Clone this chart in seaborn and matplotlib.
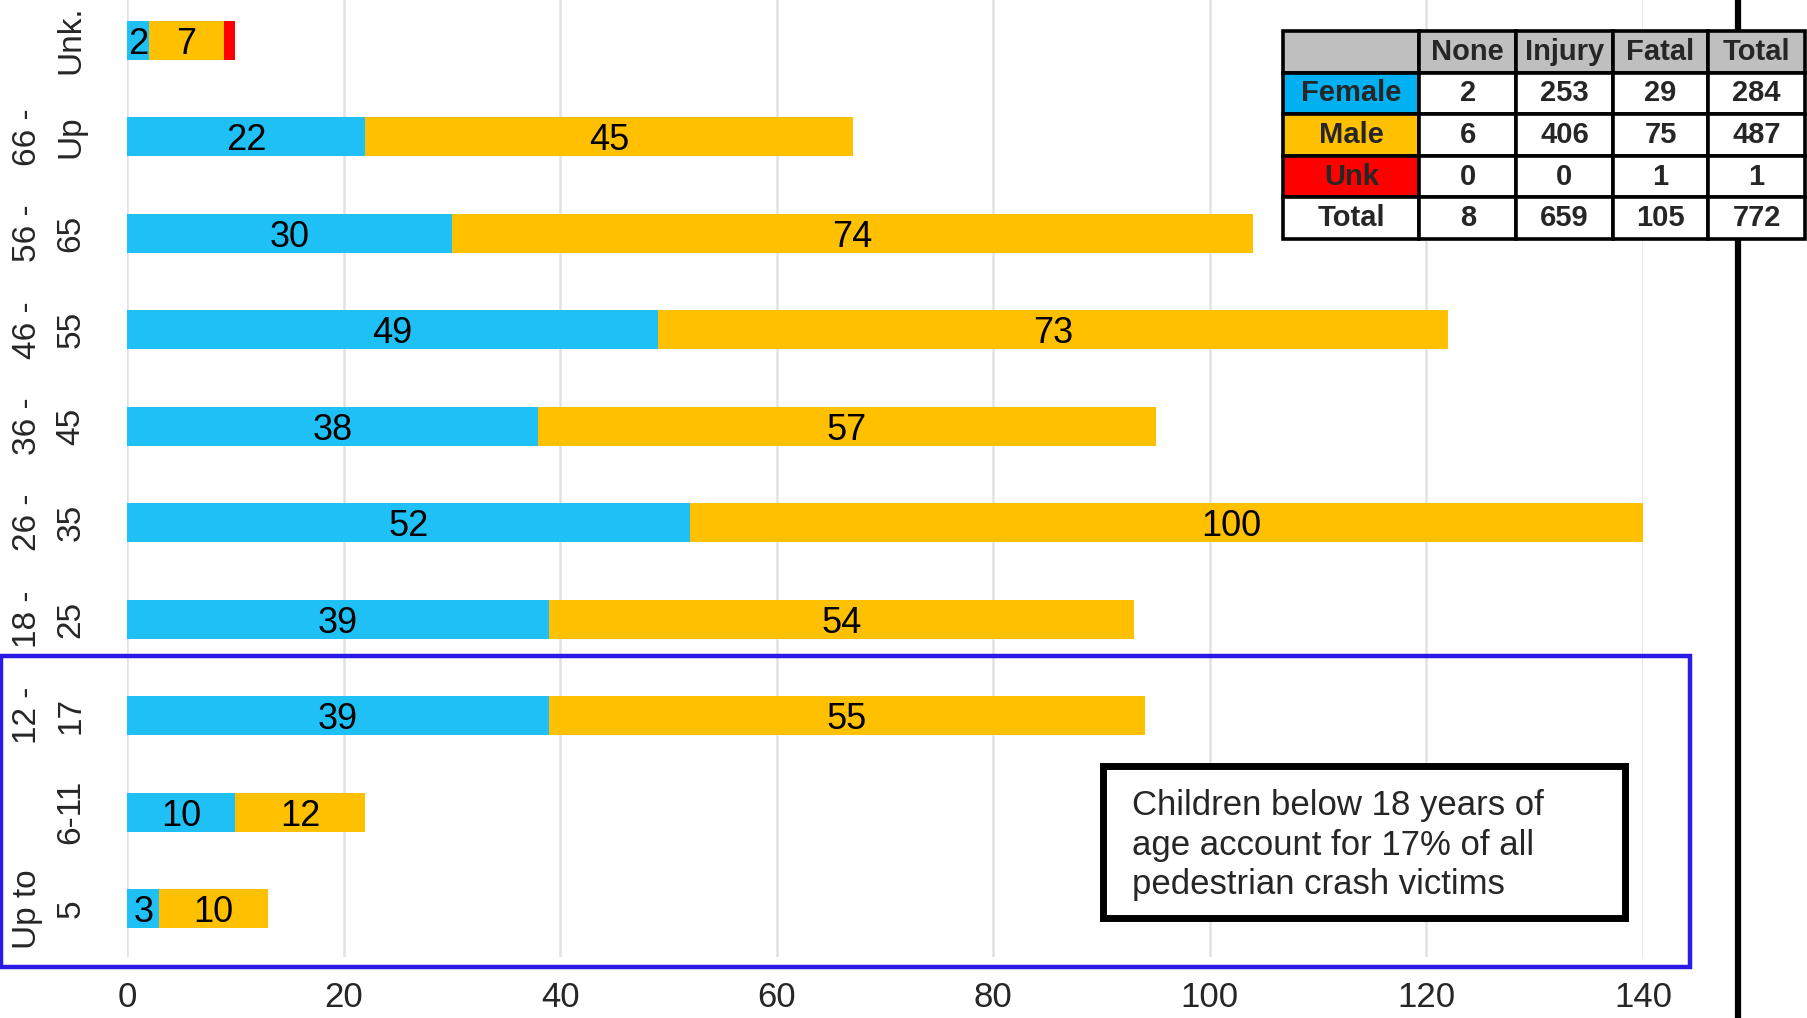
import matplotlib
matplotlib.use("Agg")
import matplotlib.pyplot as plt
import seaborn as sns
import pandas as pd
import numpy as np
from matplotlib.patches import Rectangle
from matplotlib.lines import Line2D

# ---------------- data ----------------
age_groups = ["Unk.", "66 -\nUp", "56 -\n65", "46 -\n55", "36 -\n45",
              "26 -\n35", "18 -\n25", "12 -\n17", "6-11", "Up to\n5"]
female = [2, 22, 30, 49, 38, 52, 39, 39, 10, 3]
male = [7, 45, 74, 73, 57, 100, 54, 55, 12, 10]
unknown = [1, 0, 0, 0, 0, 0, 0, 0, 0, 0]

x_ticks = [0, 20, 40, 60, 80, 100, 120, 140]

table_cols = ["", "None", "Injury", "Fatal", "Total"]
table_rows = ["Female", "Male", "Unk", "Total"]
table_none = [2, 6, 0, 8]
table_injury = [253, 406, 0, 659]
table_fatal = [29, 75, 1, 105]
table_total = [284, 487, 1, 772]

note_text = "Children below 18 years of\nage account for 17% of all\npedestrian crash victims"

# ---------------- style ----------------
sns.set_theme(style="white")
plt.rcParams["font.family"] = ["Liberation Sans", "DejaVu Sans"]

C_FEMALE = "#1FC0F5"
C_MALE = "#FFC000"
C_UNK = "#FF0000"
C_FEMALE_CELL = "#00B0F0"

W, H = 1807, 1018
fig = plt.figure(figsize=(W / 100, H / 100), dpi=100)
fig.patch.set_facecolor("white")

ax = fig.add_axes([127 / W, (H - 957) / H, (1643 - 127) / W, (957 + 8) / H])

df = pd.DataFrame({
    "age": age_groups,
    "female": female,
    "male": male,
    "unk": unknown,
})
df["fm"] = df["female"] + df["male"]
df["all"] = df["fm"] + df["unk"]

bar_w = 0.4
sns.barplot(data=df, y="age", x="all", order=age_groups, color=C_UNK,
            width=bar_w, saturation=1, orient="h", ax=ax, linewidth=0)
sns.barplot(data=df, y="age", x="fm", order=age_groups, color=C_MALE,
            width=bar_w, saturation=1, orient="h", ax=ax, linewidth=0)
sns.barplot(data=df, y="age", x="female", order=age_groups, color=C_FEMALE,
            width=bar_w, saturation=1, orient="h", ax=ax, linewidth=0)

for i, (f, m) in enumerate(zip(female, male)):
    ax.text(f / 2, i, str(f), ha="center", va="center_baseline", fontsize=26,
            color="black", clip_on=False)
    mx = f + m / 2
    ax.text(mx, i, str(m), ha="center", va="center_baseline", fontsize=26,
            color="black")

ax.set_xlim(0, 140)
ax.set_ylim(9.5, -0.5)
ax.set_xticks(x_ticks)
ax.set_xticklabels([str(t) for t in x_ticks], fontsize=25)
ax.set_yticks(range(len(age_groups)))
ax.set_yticklabels(age_groups, fontsize=24, rotation=90, va="center",
                   ha="right", linespacing=1.55, multialignment="center")
ax.tick_params(axis="y", length=0, pad=29)
ax.tick_params(axis="x", length=0, pad=17)
ax.set_xlabel("")
ax.set_ylabel("")
ax.grid(axis="x", color="#E2E2E2", linewidth=1.8)
ax.grid(axis="y", visible=False)
ax.set_axisbelow(True)
for s in ax.spines.values():
    s.set_visible(False)

# ---------------- decorations ----------------
fig.add_artist(Line2D([1738 / W, 1738 / W], [0, 1], transform=fig.transFigure,
                      color="black", linewidth=4.5, zorder=0.5))

fig.add_artist(Rectangle((1 / W, (H - 967) / H), (1690 - 1) / W, (967 - 656) / H,
                         transform=fig.transFigure, fill=False,
                         edgecolor="#2A1AE6", linewidth=3.2, zorder=3))

fig.add_artist(Rectangle((1103 / W, (H - 918) / H), (1625 - 1103) / W, (918 - 766) / H,
                         transform=fig.transFigure, facecolor="white",
                         edgecolor="black", linewidth=5, zorder=3))
fig.text(1132 / W, (H - 845) / H, note_text, ha="left", va="center",
         fontsize=25, linespacing=1.25, zorder=4)

# ---------------- table ----------------
tax = fig.add_axes([1283 / W, (H - 239) / H, (1805 - 1283) / W, (239 - 31) / H],
                   zorder=2)
tax.axis("off")
cell_text = []
for r, n, inj, fa, tot in zip(table_rows, table_none, table_injury,
                              table_fatal, table_total):
    cell_text.append([r, str(n), str(inj), str(fa), str(tot)])
tbl = tax.table(cellText=cell_text, colLabels=table_cols, bbox=[0, 0, 1, 1],
                cellLoc="center", colWidths=[137, 97, 97, 96, 97])
tbl.auto_set_font_size(False)
row_colors = {1: C_FEMALE_CELL, 2: C_MALE, 3: C_UNK}
for (r, c), cell in tbl.get_celld().items():
    cell.set_linewidth(2.6)
    cell.set_edgecolor("black")
    cell.get_text().set_fontweight("bold")
    cell.get_text().set_fontsize(21)
    if r == 0:
        cell.set_facecolor("#BFBFBF")
    elif c == 0 and r in row_colors:
        cell.set_facecolor(row_colors[r])
    else:
        cell.set_facecolor("white")

fig.savefig("out.png", dpi=100, facecolor="white")
